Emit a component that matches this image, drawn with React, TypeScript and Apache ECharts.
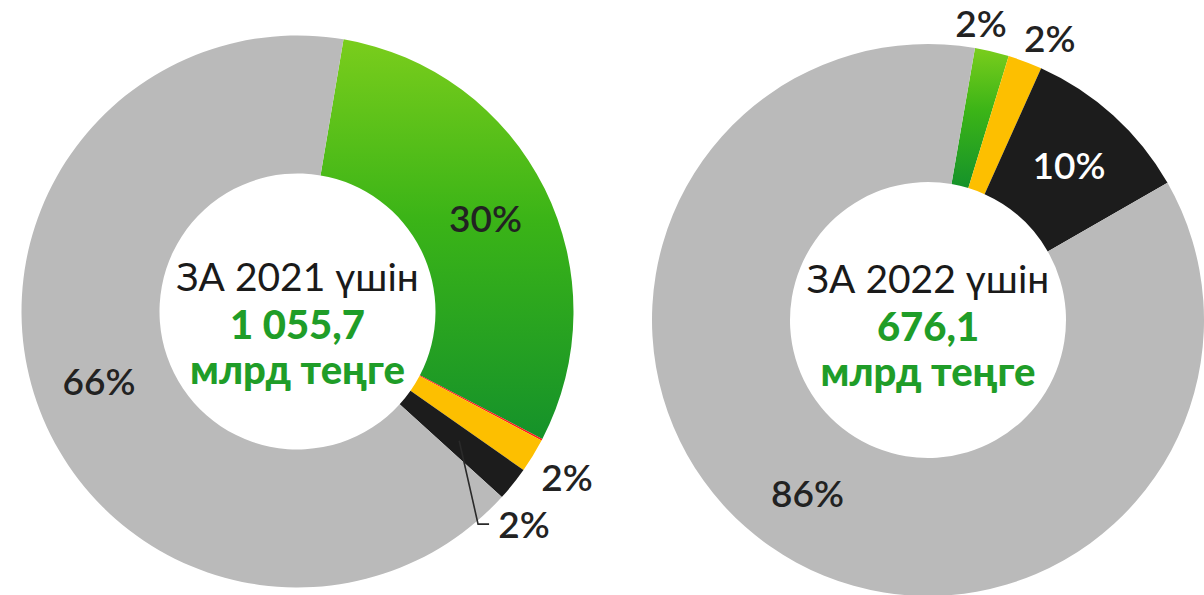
import React, { useEffect, useRef } from "react";
import * as echarts from "echarts";

// ---- data ----
const categories2021 = ["Жасыл", "Қызыл", "Сары", "Қара", "Сұр"];
const values2021 = [30, 0.1, 2, 2, 66];
const categories2022 = ["Жасыл", "Сары", "Қара", "Сұр"];
const values2022 = [2, 2, 10, 86];
const centerTitle2021 = "ЗА 2021 үшін";
const centerAmount2021 = "1 055,7";
const centerTitle2022 = "ЗА 2022 үшін";
const centerAmount2022 = "676,1";
const unitText = "млрд теңге";

// ---- styles / layout ----
const GREEN_GRAD = () =>
  new echarts.graphic.LinearGradient(0, 0, 0, 1, [
    { offset: 0, color: "#7acd1c" },
    { offset: 0.45, color: "#3bb417" },
    { offset: 1, color: "#15922a" },
  ]);
const colors2021 = ["green", "#ff1a1a", "#fdbf00", "#1c1c1c", "#bababa"];
const colors2022 = ["green", "#fdbf00", "#1c1c1c", "#bababa"];
const labelColors2021 = ["#222", "#222", "#222", "#222", "#222"];
const labelColors2022 = ["#222", "#222", "#ffffff", "#222"];
const showLabel2021 = [true, false, true, true, true];

const R_IN = 138;
const R_OUT = 276;
const C2021: [number, number] = [297.5, 311.5];
const C2022: [number, number] = [928, 320];
const START_FROM_TOP_2021 = 9.6;
const START_FROM_TOP_2022 = 9.8;

// manual placement for small-slice labels (radius, angle shift from slice middle)
const outsideSpec2021: Record<number, { r: number; d: number }> = {
  2: { r: 316, d: 0 },
  3: { r: 310, d: 4.4 },
};
const outsideSpec2022: Record<number, { r: number; d: number }> = {
  0: { r: 302, d: -3.3 },
  1: { r: 308, d: 2.7 },
};

const FONT_PCT = 'Lato, "Open Sans", "Noto Sans", sans-serif';
const FONT_CENTER = 'Lato, "Open Sans", "Noto Sans", sans-serif';

function midAngles(vals: number[], startFromTop: number) {
  const total = vals.reduce((a, b) => a + b, 0);
  let a = startFromTop;
  return vals.map((v) => {
    const span = (v / total) * 360;
    const m = a + span / 2;
    a += span;
    return m;
  });
}
function polar(c: [number, number], r: number, deg: number): [number, number] {
  const rad = (deg * Math.PI) / 180;
  return [c[0] + r * Math.sin(rad), c[1] - r * Math.cos(rad)];
}

export default function App() {
  const ref = useRef<HTMLDivElement>(null);
  useEffect(() => {
    if (!ref.current) return;
    const chart = echarts.init(ref.current, undefined, { renderer: "svg" });
    const mids2021 = midAngles(values2021, START_FROM_TOP_2021);
    const mids2022 = midAngles(values2022, START_FROM_TOP_2022);

    const mkData = (cats: string[], vals: number[], cols: string[], lcols: string[], show?: boolean[]) =>
      cats.map((name, i) => ({
        name,
        value: vals[i],
        itemStyle: { color: cols[i] === "green" ? GREEN_GRAD() : cols[i] },
        label: { show: show ? show[i] : true, color: lcols[i] },
      }));

    const pctLabel = {
      position: "inside",
      formatter: (p: any) => `${Math.round(p.value)}%`,
      fontFamily: FONT_PCT,
      fontSize: 37,
      fontWeight: 600,
    };

    // leader line for the 2021 black slice
    const blackIdx = 3;
    const blackLabel = polar(C2021, outsideSpec2021[blackIdx].r, mids2021[blackIdx] + outsideSpec2021[blackIdx].d);
    const blackStart = polar(C2021, (R_IN + R_OUT) / 2, mids2021[blackIdx]);

    const centerText = (c: [number, number], title: string, amount: string, dy: number[]) => {
      const lines = [title, amount, unitText];
      return lines.map((t, i) => ({
        type: "text",
        z: 50,
        x: c[0],
        y: c[1] + dy[i],
        style: {
          text: t,
          fill: i === 0 ? "#1a1a1a" : "#1f9d28",
          font: i === 0 ? `normal 39px ${FONT_CENTER}` : `900 40px ${FONT_CENTER}`,
          textAlign: "center",
          textVerticalAlign: "middle",
          align: "center",
          verticalAlign: "middle",
        },
      }));
    };

    chart.setOption({
      animation: false,
      backgroundColor: "#ffffff",
      series: [
        {
          type: "pie",
          center: C2021,
          radius: [R_IN, R_OUT],
          startAngle: 90 - START_FROM_TOP_2021,
          clockwise: true,
          silent: true,
          label: pctLabel,
          labelLine: { show: false },
          data: mkData(categories2021, values2021, colors2021, labelColors2021, showLabel2021),
          labelLayout: (p: any) => {
            const s = outsideSpec2021[p.dataIndex];
            if (!s) return {};
            const [x, y] = polar(C2021, s.r, mids2021[p.dataIndex] + s.d);
            return { x, y, align: "center", verticalAlign: "middle" };
          },
        },
        {
          type: "pie",
          center: C2022,
          radius: [R_IN, R_OUT],
          startAngle: 90 - START_FROM_TOP_2022,
          clockwise: true,
          silent: true,
          label: pctLabel,
          labelLine: { show: false },
          data: mkData(categories2022, values2022, colors2022, labelColors2022),
          labelLayout: (p: any) => {
            const s = outsideSpec2022[p.dataIndex];
            if (!s) return {};
            const [x, y] = polar(C2022, s.r, mids2022[p.dataIndex] + s.d);
            return { x, y, align: "center", verticalAlign: "middle" };
          },
        },
      ],
      graphic: [
        {
          type: "polyline",
          z: 100,
          shape: {
            points: [
              blackStart,
              [blackLabel[0] - 46, blackLabel[1] + 1],
              [blackLabel[0] - 35, blackLabel[1] + 1],
            ],
          },
          style: { stroke: "#2a2a2a", lineWidth: 1.6, fill: null },
        },
        ...centerText(C2021, centerTitle2021, centerAmount2021, [-36, 12, 57]),
        ...centerText(C2022, centerTitle2022, centerAmount2022, [-42, 6, 51]),
      ],
    });
    return () => chart.dispose();
  }, []);
  return (
    <div
      ref={ref}
      style={{ position: "fixed", left: 0, top: 0, width: 1204, height: 595, background: "#fff" }}
    />
  );
}
